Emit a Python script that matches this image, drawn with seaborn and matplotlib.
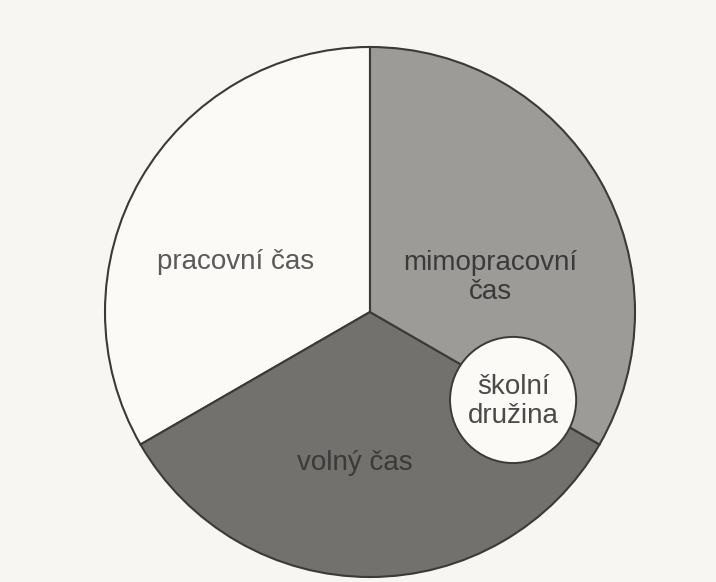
import matplotlib
matplotlib.use("Agg")
import matplotlib.pyplot as plt
from matplotlib.patches import Circle
import seaborn as sns

# Data
categories = ["pracovní čas", "volný čas", "mimopracovní\nčas"]
shares = [1, 1, 1]
slice_colors = ["#fbfaf7", "#73716e", "#9c9b97"]
inner_label = "školní\ndružina"

sns.set_theme(style="white")
plt.rcParams['font.family'] = ['Liberation Sans', 'DejaVu Sans']

bg = "#f7f6f2"
fig = plt.figure(figsize=(7.16, 5.82), dpi=100, facecolor=bg)
ax = fig.add_axes([0, 0, 1, 1])
ax.set_facecolor(bg)

wedges, _ = ax.pie(shares, startangle=90, counterclock=True, colors=slice_colors,
                   radius=1.0,
                   wedgeprops=dict(edgecolor="#3a3a3a", linewidth=1.5))

# inner circle "školní družina"
ax.add_patch(Circle((0.54, -0.332), 0.238, facecolor="#fbfaf7",
                    edgecolor="#3a3a3a", linewidth=1.4, zorder=5))

fs = 20
ax.text(-0.509, 0.189, categories[0], ha="center", va="center", fontsize=fs,
        color="#5a5a5a")
ax.text(-0.057, -0.570, categories[1], ha="center", va="center", fontsize=fs,
        color="#3a3a3a")
ax.text(0.453, 0.13, categories[2], ha="center", va="center", fontsize=fs,
        color="#3a3a3a", linespacing=1.15)
ax.text(0.54, -0.336, inner_label, ha="center", va="center", fontsize=fs,
        color="#4a4a4a", linespacing=1.15, zorder=6)

ax.set_aspect("auto")
ax.set_xlim(-370 / 265, (716 - 370) / 265)
ax.set_ylim(-(582 - 312) / 265, 312 / 265)
ax.axis("off")

fig.savefig("out.png", dpi=100, facecolor=bg)
